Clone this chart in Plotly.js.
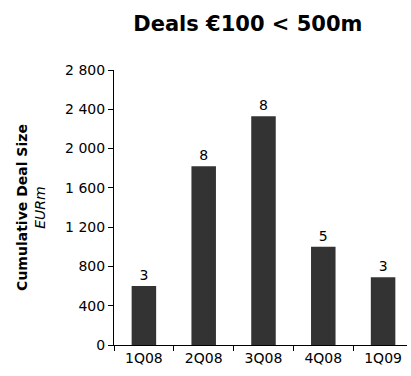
<!DOCTYPE html>
<html>
<head>
<meta charset="utf-8">
<script src="https://cdn.plot.ly/plotly-3.0.1.min.js"></script>
<style>
  html, body { margin: 0; padding: 0; background: #ffffff; }
  #chart { width: 411px; height: 376px; }
</style>
</head>
<body>
<div id="chart"></div>
<script>
// Quarterly cumulative deal size (EURm) and number of deals per quarter
const quarters = ['1Q08', '2Q08', '3Q08', '4Q08', '1Q09'];
const dealSize = [600, 1820, 2330, 1000, 690];
const dealCount = [3, 8, 8, 5, 3];
const yTicks = [0, 400, 800, 1200, 1600, 2000, 2400, 2800];

const font = 'DejaVu Sans, Verdana, sans-serif';

const trace = {
  type: 'bar',
  x: quarters,
  y: dealSize,
  text: dealCount.map(String),
  textposition: 'outside',
  cliponaxis: false,
  textfont: { family: font, size: 14, color: '#000000' },
  marker: { color: '#333333', line: { width: 0 } },
  hoverinfo: 'none'
};

const layout = {
  width: 411,
  height: 376,
  margin: { l: 114, r: 4, t: 70, b: 31 },
  paper_bgcolor: '#ffffff',
  plot_bgcolor: '#ffffff',
  separators: ', ',
  showlegend: false,
  bargap: 0.59,
  font: { family: font, size: 14, color: '#000000' },
  title: {
    text: '<b>Deals €100 &lt; 500m</b>',
    font: { family: font, size: 21, color: '#000000' },
    x: 0.603,
    xanchor: 'center',
    y: 0.938,
    yanchor: 'middle'
  },
  xaxis: {
    type: 'category',
    range: [-0.5, 4.4],
    tickson: 'boundaries',
    ticks: 'outside',
    ticklen: 5,
    tickcolor: '#000000',
    showline: true,
    linecolor: '#000000',
    linewidth: 1,
    showgrid: false,
    zeroline: false,
    tickfont: { family: font, size: 14, color: '#000000' }
  },
  yaxis: {
    range: [0, 2800],
    tickvals: yTicks,
    separatethousands: true,
    ticks: 'outside',
    ticklen: 5,
    tickcolor: '#000000',
    showline: true,
    linecolor: '#000000',
    linewidth: 1,
    showgrid: false,
    zeroline: false,
    tickfont: { family: font, size: 14, color: '#000000' },
    title: {
      text: '<b>Cumulative Deal Size</b><br><i>EURm</i>',
      font: { family: font, size: 14, color: '#000000' },
      standoff: 16
    }
  }
};

Plotly.newPlot('chart', [trace], layout, { staticPlot: true, displayModeBar: false });
</script>
</body>
</html>
